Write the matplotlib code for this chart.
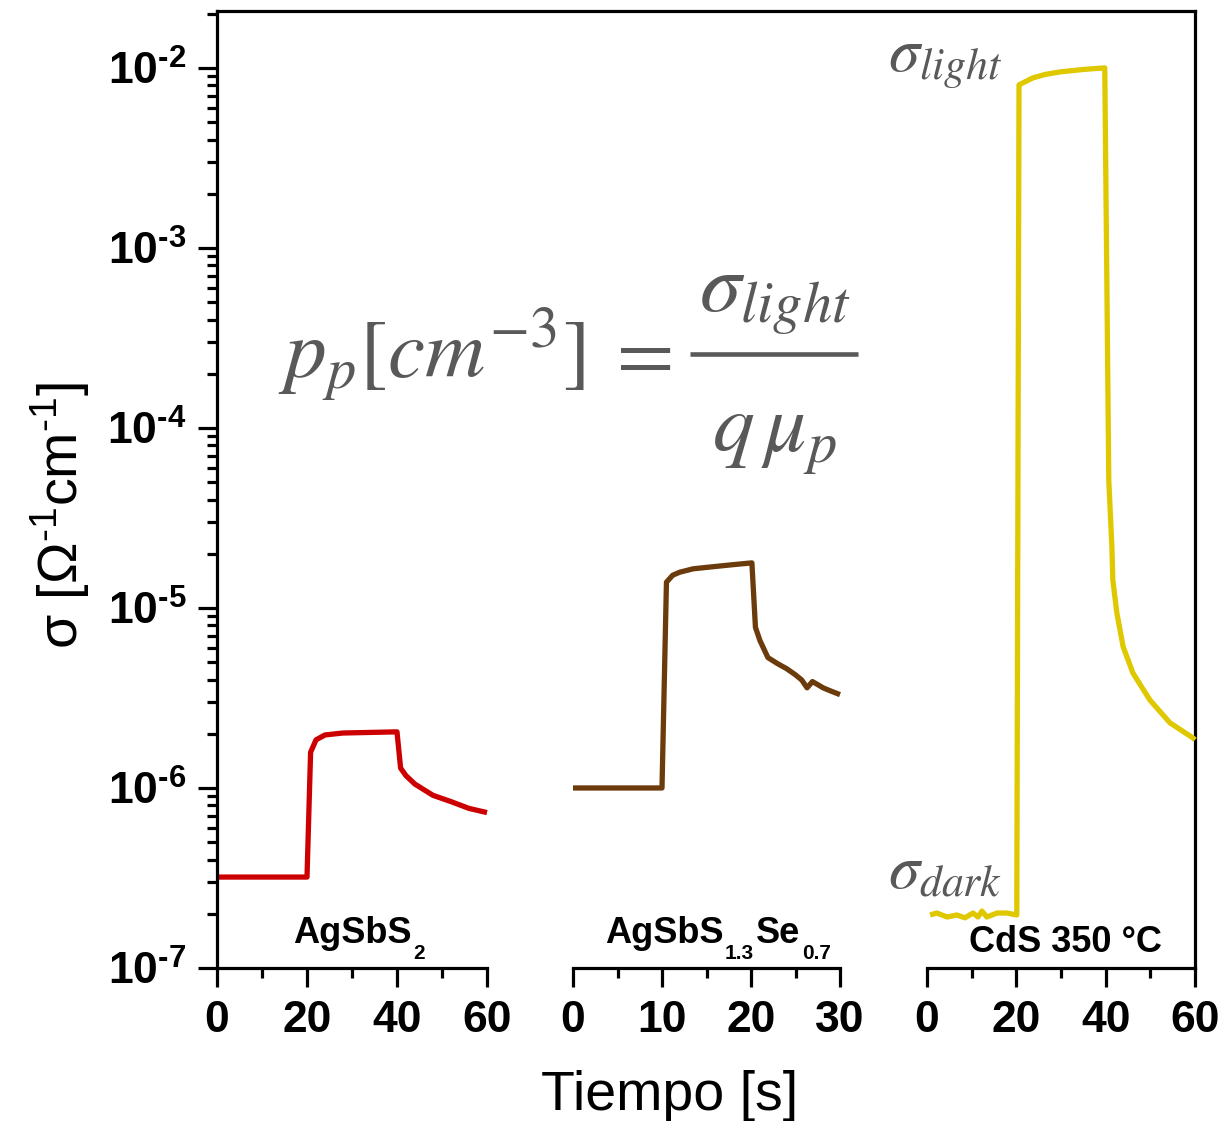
import numpy as np
import matplotlib
matplotlib.use("Agg")
import matplotlib.pyplot as plt
from matplotlib.lines import Line2D
from matplotlib.ticker import LogLocator, FixedLocator, NullFormatter, FuncFormatter

# ---- photoconductivity transients ----
t_agsbs2 = [0, 5, 10, 15, 20, 20.8, 22, 24, 28, 32, 36, 40, 40.8, 42, 44, 48, 52, 56, 60]
s_agsbs2 = [3.2e-7, 3.2e-7, 3.2e-7, 3.2e-7, 3.2e-7, 1.58e-6, 1.85e-6, 1.97e-6, 2.02e-6,
            2.03e-6, 2.04e-6, 2.05e-6, 1.29e-6, 1.17e-6, 1.05e-6, 9.1e-7, 8.4e-7, 7.7e-7, 7.3e-7]

t_agsbsse = [0, 2, 4, 6, 8, 10, 10.5, 11.2, 12, 13.5, 15, 16.5, 18, 20.1, 20.5, 21, 21.9,
             23, 24, 25, 25.7, 26.3, 26.9, 27.5, 28.1, 29, 30]
s_agsbsse = [1e-6, 1e-6, 1e-6, 1e-6, 1e-6, 1e-6, 1.39e-5, 1.52e-5, 1.58e-5, 1.65e-5, 1.68e-5,
             1.71e-5, 1.74e-5, 1.78e-5, 7.8e-6, 6.6e-6, 5.3e-6, 4.9e-6, 4.6e-6, 4.25e-6,
             3.98e-6, 3.6e-6, 3.9e-6, 3.75e-6, 3.6e-6, 3.45e-6, 3.3e-6]

t_cds = [0.7, 2.2, 4.5, 6.7, 8.5, 10.3, 11.4, 12.3, 13.4, 15.7, 17.9, 20.1,
         20.6, 23.7, 26.5, 29.8, 35, 39.8, 40.7, 41.4, 41.6, 42.5, 43.9, 46.1, 49.9, 54.4, 59.5, 60]
s_cds = [1.97e-7, 2.02e-7, 1.92e-7, 1.97e-7, 1.90e-7, 2.02e-7, 1.92e-7, 2.07e-7, 1.92e-7,
         2.02e-7, 2.02e-7, 1.97e-7,
         8.05e-3, 8.8e-3, 9.2e-3, 9.5e-3, 9.8e-3, 1.0e-2, 5.1e-5, 2.18e-5, 1.43e-5, 9.4e-6,
         6.1e-6, 4.35e-6, 3.08e-6, 2.30e-6, 1.90e-6, 1.85e-6]

# sample names as (text, is_subscript) runs
sample_names = [
    [("AgSbS", False), ("2", True)],
    [("AgSbS", False), ("1.3", True), ("Se", False), ("0.7", True)],
    [("CdS 350 °C", False)],
]
x_max = [60, 30, 60]
x_major = [[0, 20, 40, 60], [0, 10, 20, 30], [0, 20, 40, 60]]
x_minor = [[10, 30, 50], [5, 15, 25], [10, 30, 50]]
colors = ["#cc0000", "#6b3b0c", "#e0c800"]
y_limits = (1e-7, 2.07e-2)

W, H, DPI = 1223, 1121, 100
plt.rcParams['font.family'] = ['Liberation Sans', 'DejaVu Sans']
plt.rcParams['mathtext.fontset'] = 'custom'
plt.rcParams['mathtext.rm'] = 'Liberation Sans'
plt.rcParams['mathtext.it'] = 'Liberation Sans:italic'
plt.rcParams['mathtext.bf'] = 'Liberation Sans:bold'

HYPHEN = "\u2010"

fig = plt.figure(figsize=(W / DPI, H / DPI), dpi=DPI)
fig.patch.set_facecolor('white')
renderer = fig.canvas.get_renderer()

def fx(px):
    return px / W

def fy(py):
    return 1 - py / H

Y_TOP, Y_BOT = 11, 968
LW = 2.3

def rect(x0, x1):
    return [fx(x0), fy(Y_BOT), (x1 - x0) / W, (Y_BOT - Y_TOP) / H]

# outer frame: top and right edges spanning all panels
frame = fig.add_axes(rect(217, 1195))
frame.set_xticks([])
frame.set_yticks([])
frame.patch.set_alpha(0)
for side in ('left', 'bottom'):
    frame.spines[side].set_visible(False)
for side in ('top', 'right'):
    frame.spines[side].set_linewidth(LW)

panel_px = [(217, 487), (573, 840), (927, 1195)]
series = [(t_agsbs2, s_agsbs2), (t_agsbsse, s_agsbsse), (t_cds, s_cds)]

def decade_label(v, pos):
    e = int(round(np.log10(v)))
    exp = (HYPHEN + str(-e)) if e < 0 else str(e)
    return r"$\mathbf{10^{%s}}$" % exp

axes = []
for i, (x0, x1) in enumerate(panel_px):
    ax = fig.add_axes(rect(x0, x1))
    ax.patch.set_alpha(0)
    ax.set_yscale('log')
    ax.set_ylim(*y_limits)
    ax.set_xlim(0, x_max[i])
    t, s = series[i]
    ax.plot(t, s, color=colors[i], lw=3.8, solid_joinstyle='round', solid_capstyle='butt',
            clip_on=False)
    for side in ('top', 'right'):
        ax.spines[side].set_visible(False)
    ax.spines['bottom'].set_linewidth(LW)
    ax.xaxis.set_major_locator(FixedLocator(x_major[i]))
    ax.xaxis.set_minor_locator(FixedLocator(x_minor[i]))
    ax.tick_params(axis='x', which='major', direction='out', length=14, width=LW,
                   labelsize=32, pad=9)
    ax.tick_params(axis='x', which='minor', direction='out', length=7, width=LW)
    for lab in ax.get_xticklabels():
        lab.set_fontweight('bold')
    if i == 0:
        ax.spines['left'].set_linewidth(LW)
        ax.yaxis.set_major_locator(LogLocator(base=10, numticks=20))
        ax.yaxis.set_minor_locator(LogLocator(base=10, subs=np.arange(2, 10), numticks=20))
        ax.yaxis.set_minor_formatter(NullFormatter())
        ax.yaxis.set_major_formatter(FuncFormatter(decade_label))
        ax.tick_params(axis='y', which='major', direction='out', length=14, width=LW,
                       labelsize=32, pad=8)
        ax.tick_params(axis='y', which='minor', direction='out', length=7, width=LW)
    else:
        ax.spines['left'].set_visible(False)
        ax.tick_params(axis='y', which='both', left=False, labelleft=False)
    axes.append(ax)

# sample names, built from runs of normal and lowered small text
MAIN_SIZE, SUB_SIZE, SUB_DROP, SUB_GAP = 26, 15, 16, 2

def draw_runs(runs, xc, baseline):
    texts = []
    widths = []
    for txt, sub in runs:
        size = SUB_SIZE if sub else MAIN_SIZE
        tx = fig.text(0, 0, txt, fontsize=size, fontweight='bold', ha='left', va='baseline')
        w = tx.get_window_extent(renderer).width
        if sub:
            w += 2 * SUB_GAP
        texts.append(tx)
        widths.append(w)
    x = xc - sum(widths) / 2
    for (txt, sub), tx, w in zip(runs, texts, widths):
        if sub:
            tx.set_position((fx(x + SUB_GAP), fy(baseline + SUB_DROP)))
        else:
            tx.set_position((fx(x), fy(baseline)))
        x += w

name_pos = [(360, 943), (719, 943), (1065, 952)]
for runs, (px, py) in zip(sample_names, name_pos):
    draw_runs(runs, px, py)

# axis titles
fig.text(fx(670), fy(1110), "Tiempo [s]", fontsize=40, ha='center', va='baseline')
fig.text(fx(60), fy(515), r"σ [Ω$^{%s1}$cm$^{%s1}$]" % (HYPHEN, HYPHEN), fontsize=40,
         rotation=90, ha='center', va='center')

# carrier density relation and level markers
gray = '#595959'
fig.text(fx(278), fy(378), r"$p_p[cm^{-3}]$", fontsize=60, color=gray,
         math_fontfamily='stix', ha='left', va='baseline')
fig.text(fx(638), fy(378), r"$=$", fontsize=60, color=gray,
         math_fontfamily='stix', ha='center', va='baseline')
fig.text(fx(775), fy(312), r"$\sigma_{light}$", fontsize=60, color=gray,
         math_fontfamily='stix', ha='center', va='baseline')
fig.text(fx(775), fy(452), r"$q\,\mu_p$", fontsize=60, color=gray,
         math_fontfamily='stix', ha='center', va='baseline')
fig.add_artist(Line2D([fx(690), fx(858)], [fy(354), fy(354)], color=gray, lw=3.3,
                      solid_capstyle='butt'))

fig.text(fx(888), fy(62), r"$\sigma_{light}$", fontsize=45, color=gray,
         math_fontfamily='stix', ha='left', va='center')
fig.text(fx(888), fy(872), r"$\sigma_{dark}$", fontsize=45, color=gray,
         math_fontfamily='stix', ha='left', va='center')

fig.savefig("out.png", dpi=DPI)
